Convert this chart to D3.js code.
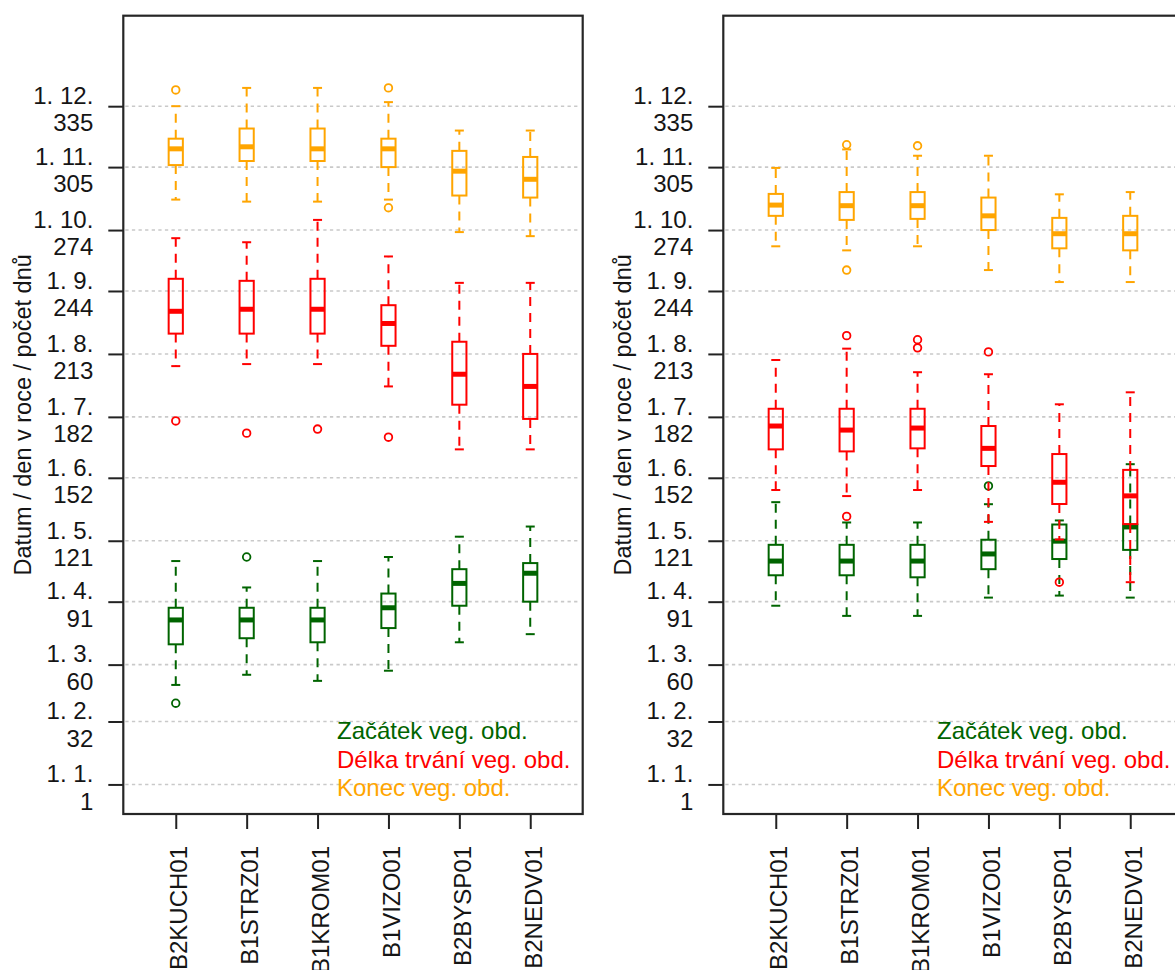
<!DOCTYPE html>
<html>
<head>
<meta charset="utf-8">
<script src="https://cdn.jsdelivr.net/npm/d3@7"></script>
<style>
  html, body { margin: 0; padding: 0; background: #fff; }
  svg { display: block; }
  text { font-family: "Liberation Sans", Arial, sans-serif; }
</style>
</head>
<body>
<svg id="chart" width="1175" height="970"></svg>
<script>
// ---------------- DATA ----------------
const stations = ["B2KUCH01", "B1STRZ01", "B1KROM01", "B1VIZO01", "B2BYSP01", "B2NEDV01"];
const tickDays = [1, 32, 60, 91, 121, 152, 182, 213, 244, 274, 305, 335];
const tickDates = ["1. 1.", "1. 2.", "1. 3.", "1. 4.", "1. 5.", "1. 6.", "1. 7.", "1. 8.", "1. 9.", "1. 10.", "1. 11.", "1. 12."];
const yLim = [1, 365];
const yTitle = "Datum / den v roce / počet dnů";
const seriesNames = ["Začátek veg. obd.", "Délka trvání veg. obd.", "Konec veg. obd."];
const seriesColors = ["#006400", "#ff0000", "#ffa500"];

// box stats per station: [lower whisker, Q1, median, Q3, upper whisker]
// ---- left panel ----
const leftStart = [[50, 70, 82, 88, 111], [55, 73, 82, 88, 98], [52, 71, 82, 88, 111], [57, 78, 88, 95, 113], [71, 89, 100, 107, 123], [75, 91, 105, 110, 128]];
const leftStartOut = [[41], [113], [], [], [], []];
const leftLength = [[207, 223, 234, 250, 270], [208, 223, 235, 249, 268], [208, 223, 235, 250, 279], [197, 217, 228, 237, 261], [166, 188, 203, 219, 248], [166, 181, 197, 213, 248]];
const leftLengthOut = [[180], [174], [176], [172], [], []];
const leftEnd = [[289, 306, 314, 319, 335], [288, 308, 315, 324, 344], [288, 308, 314, 324, 344], [289, 305, 314, 319, 337], [273, 291, 303, 313, 323], [271, 290, 299, 310, 323]];
const leftEndOut = [[343], [], [], [344, 285], [], []];
// ---- right panel ----
const rightStart = [[89, 104, 111, 119, 140], [84, 104, 111, 119, 130], [84, 103, 111, 119, 130], [93, 107, 114.5, 121.5, 139], [94, 112, 120.8, 129, 131], [93, 116.5, 127.8, 129, 158.7]];
const rightStartOut = [[], [], [], [148], [], []];
const rightLength = [[146, 166, 177.5, 186, 210], [143, 165, 175.5, 186, 215.6], [146, 166.5, 176.5, 186, 204], [130.3, 157.8, 166.5, 177.5, 203], [121.6, 139.1, 149.8, 163.7, 188.2], [100.6, 129.2, 143.1, 155.9, 194.1]];
const rightLengthOut = [[], [222, 133], [220, 216], [214], [100.6], []];
const rightEnd = [[266, 281, 286.3, 291.8, 304.6], [264, 279, 286, 292.7, 313.7], [266, 279.5, 286, 292.7, 310.6], [254.3, 274, 281, 290, 310.6], [248.4, 265, 272.2, 280, 291.6], [248.4, 264, 272.2, 281, 292.7]];
const rightEndOut = [[], [316, 254.3], [315.5], [], [], []];

const panels = [
  { offset: 0, series: [[leftStart, leftStartOut], [leftLength, leftLengthOut], [leftEnd, leftEndOut]] },
  { offset: 600, series: [[rightStart, rightStartOut], [rightLength, rightLengthOut], [rightEnd, rightEndOut]] }
];

// ---------------- DRAWING ----------------
const svg = d3.select("#chart");
const plotTop = 15.7, plotBottom = 814, plotLeft = 123.3, plotRight = 582.7;
const ext = (yLim[1] - yLim[0]) * 0.04;
const nSt = stations.length;
const xExt = nSt * 0.04;
const boxW = 14.2, capW = 9, medW = 5, fontSize = 24;

panels.forEach(p => {
  const g = svg.append("g").attr("transform", `translate(${p.offset},0)`);
  const y = d3.scaleLinear().domain([yLim[0] - ext, yLim[1] + ext]).range([plotBottom, plotTop]);
  const x = d3.scaleLinear().domain([0.5 - xExt, nSt + 0.5 + xExt]).range([plotLeft, plotRight]);

  // gridlines
  g.append("g").selectAll("line").data(tickDays).join("line")
    .attr("x1", plotLeft + 2).attr("x2", plotRight - 2)
    .attr("y1", d => y(d)).attr("y2", d => y(d))
    .attr("stroke", "#c9c9c9").attr("stroke-width", 1.6).attr("stroke-dasharray", "3.3,3.3");

  // y axis
  const yAxis = g.append("g").attr("transform", `translate(${plotLeft},0)`)
    .call(d3.axisLeft(y).tickValues(tickDays).tickSize(15).tickPadding(15).tickFormat(""));
  yAxis.select(".domain").remove();
  yAxis.selectAll(".tick line").attr("stroke", "#222").attr("stroke-width", 2);
  yAxis.selectAll(".tick").each(function (d, i) {
    const t = d3.select(this);
    t.select("text").remove();
    t.append("text").attr("x", -30).attr("y", -2.7).attr("text-anchor", "end")
      .attr("fill", "#151515").style("font-size", fontSize + "px").text(tickDates[i]);
    t.append("text").attr("x", -30).attr("y", 24.7).attr("text-anchor", "end")
      .attr("fill", "#151515").style("font-size", fontSize + "px").text(tickDays[i]);
  });

  // x axis
  const xAxis = g.append("g").attr("transform", `translate(0,${plotBottom})`)
    .call(d3.axisBottom(x).tickValues(d3.range(1, nSt + 1)).tickSize(15).tickFormat(""));
  xAxis.select(".domain").remove();
  xAxis.selectAll(".tick line").attr("stroke", "#222").attr("stroke-width", 2);
  xAxis.selectAll(".tick").each(function (d, i) {
    d3.select(this).select("text").remove();
    d3.select(this).append("text")
      .attr("transform", `translate(11,${846 - plotBottom}) rotate(-90)`)
      .attr("text-anchor", "end").attr("fill", "#151515")
      .style("font-size", fontSize + "px").text(stations[i]);
  });

  // y title
  g.append("text").attr("transform", `translate(31,${(plotTop + plotBottom) / 2}) rotate(-90)`)
    .attr("text-anchor", "middle").attr("fill", "#151515").style("font-size", "23.5px").text(yTitle);

  // boxplots
  p.series.forEach(([stats, outs], si) => {
    const col = seriesColors[si];
    const sg = g.append("g");
    stats.forEach((s, i) => {
      const cx = x(i + 1);
      const [lw, q1, md, q3, uw] = s;
      // whiskers
      sg.append("line").attr("x1", cx).attr("x2", cx).attr("y1", y(q1)).attr("y2", y(lw))
        .attr("stroke", col).attr("stroke-width", 2).attr("stroke-dasharray", "9,7");
      sg.append("line").attr("x1", cx).attr("x2", cx).attr("y1", y(q3)).attr("y2", y(uw))
        .attr("stroke", col).attr("stroke-width", 2).attr("stroke-dasharray", "9,7");
      // caps
      [lw, uw].forEach(v => sg.append("line").attr("x1", cx - capW / 2).attr("x2", cx + capW / 2)
        .attr("y1", y(v)).attr("y2", y(v)).attr("stroke", col).attr("stroke-width", 2));
      // box
      sg.append("rect").attr("x", cx - boxW / 2).attr("width", boxW)
        .attr("y", y(q3)).attr("height", y(q1) - y(q3))
        .attr("fill", "none").attr("stroke", col).attr("stroke-width", 2);
      // median
      sg.append("line").attr("x1", cx - boxW / 2).attr("x2", cx + boxW / 2)
        .attr("y1", y(md)).attr("y2", y(md)).attr("stroke", col).attr("stroke-width", medW);
      // outliers
      outs[i].forEach(v => sg.append("circle").attr("cx", cx).attr("cy", y(v)).attr("r", 3.8)
        .attr("fill", "none").attr("stroke", col).attr("stroke-width", 1.8));
    });
  });

  // legend
  const lg = g.append("g");
  seriesNames.forEach((n, i) => {
    lg.append("text").attr("x", 337).attr("y", 739.3 + i * 28.5)
      .attr("fill", seriesColors[i]).style("font-size", fontSize + "px").text(n);
  });

  // frame
  g.append("rect").attr("x", plotLeft).attr("y", plotTop)
    .attr("width", plotRight - plotLeft).attr("height", plotBottom - plotTop)
    .attr("fill", "none").attr("stroke", "#262626").attr("stroke-width", 2.2);
});
</script>
</body>
</html>
